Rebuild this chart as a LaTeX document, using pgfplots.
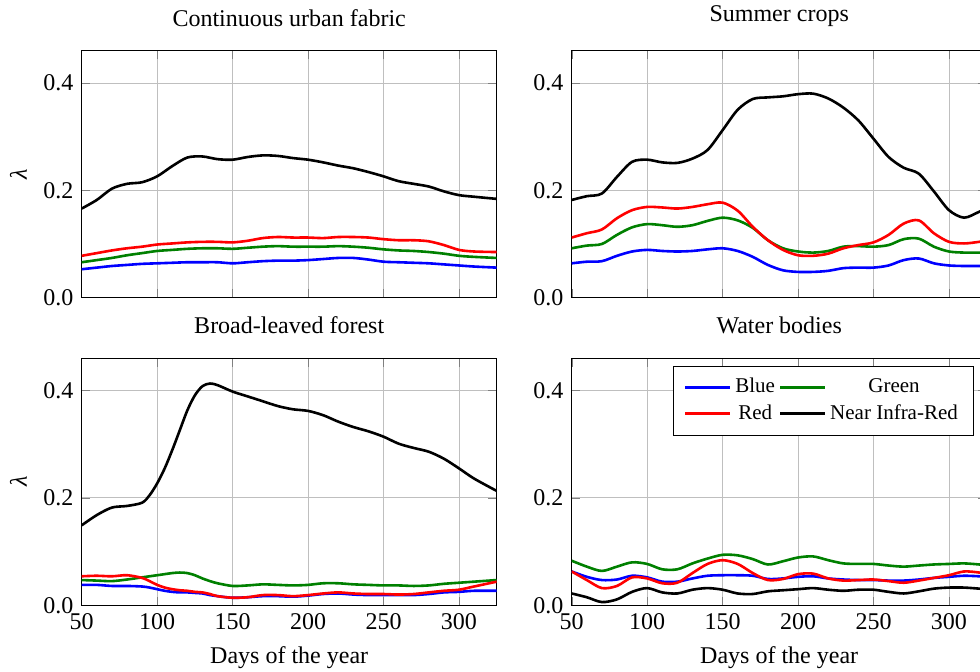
\documentclass[12pt,border=0pt]{standalone}
\usepackage{fontspec}
\setmainfont{Liberation Serif}
\usepackage{pgfplots}
\usepackage{pgfplotstable}
\pgfplotsset{compat=1.18}

\definecolor{cblue}{RGB}{0,0,255}
\definecolor{cgreen}{RGB}{0,128,0}
\definecolor{cred}{RGB}{255,0,0}

% continuous urban fabric
\pgfplotstableread{
d   B     G     R     N
50  0.053 0.066 0.078 0.166
60  0.056 0.070 0.083 0.182
70  0.059 0.074 0.088 0.203
80  0.061 0.079 0.092 0.212
90  0.063 0.083 0.095 0.215
100 0.064 0.087 0.099 0.226
110 0.065 0.089 0.101 0.245
120 0.066 0.091 0.103 0.261
130 0.066 0.092 0.104 0.263
140 0.066 0.092 0.104 0.258
150 0.064 0.091 0.103 0.257
160 0.066 0.093 0.106 0.262
170 0.068 0.095 0.111 0.265
180 0.069 0.096 0.113 0.264
190 0.069 0.095 0.112 0.260
200 0.070 0.095 0.112 0.257
210 0.072 0.095 0.111 0.252
220 0.074 0.096 0.113 0.246
230 0.074 0.095 0.113 0.241
240 0.071 0.093 0.112 0.234
250 0.067 0.090 0.109 0.226
260 0.066 0.088 0.107 0.217
270 0.065 0.087 0.107 0.212
280 0.064 0.085 0.105 0.207
290 0.062 0.082 0.098 0.198
300 0.060 0.078 0.089 0.191
310 0.058 0.076 0.086 0.188
325 0.056 0.074 0.085 0.184
}\urban

% summer crops
\pgfplotstableread{
d   B     G     R     N
50  0.064 0.092 0.112 0.182
60  0.067 0.097 0.120 0.189
70  0.068 0.100 0.127 0.194
80  0.078 0.117 0.148 0.225
90  0.086 0.131 0.163 0.253
100 0.089 0.137 0.169 0.257
110 0.087 0.135 0.168 0.252
120 0.086 0.132 0.166 0.251
130 0.087 0.135 0.169 0.259
140 0.090 0.143 0.174 0.275
150 0.092 0.149 0.177 0.312
160 0.087 0.144 0.162 0.350
170 0.076 0.130 0.132 0.370
180 0.061 0.107 0.107 0.373
190 0.051 0.092 0.089 0.375
200 0.048 0.086 0.079 0.379
210 0.048 0.084 0.078 0.380
220 0.050 0.087 0.082 0.371
230 0.055 0.095 0.092 0.354
240 0.056 0.096 0.098 0.330
250 0.056 0.095 0.103 0.296
260 0.060 0.098 0.117 0.262
270 0.070 0.109 0.138 0.242
280 0.073 0.110 0.144 0.231
290 0.064 0.095 0.120 0.198
300 0.060 0.086 0.104 0.163
310 0.059 0.084 0.101 0.149
320 0.059 0.084 0.104 0.160
325 0.059 0.084 0.106 0.166
}\crops

% broad-leaved forest
\pgfplotstableread{
d   B     G     R     N
50  0.038 0.047 0.054 0.149
60  0.038 0.046 0.055 0.168
70  0.036 0.045 0.054 0.182
80  0.036 0.048 0.056 0.185
90  0.035 0.052 0.051 0.191
95  0.033 0.054 0.045 0.205
100 0.030 0.056 0.038 0.227
105 0.027 0.058 0.033 0.255
110 0.025 0.060 0.030 0.289
115 0.024 0.061 0.028 0.326
120 0.024 0.060 0.027 0.363
125 0.023 0.056 0.025 0.391
130 0.022 0.050 0.024 0.408
135 0.019 0.045 0.021 0.413
140 0.017 0.041 0.017 0.410
150 0.014 0.036 0.014 0.398
160 0.015 0.037 0.015 0.389
170 0.017 0.039 0.019 0.380
180 0.017 0.038 0.019 0.371
190 0.016 0.037 0.017 0.365
200 0.018 0.038 0.019 0.362
210 0.021 0.041 0.022 0.354
220 0.022 0.041 0.024 0.342
230 0.020 0.039 0.022 0.332
240 0.019 0.038 0.021 0.324
250 0.019 0.037 0.021 0.314
260 0.019 0.037 0.020 0.301
270 0.019 0.036 0.021 0.293
280 0.021 0.037 0.024 0.286
290 0.024 0.040 0.027 0.273
300 0.025 0.042 0.029 0.255
310 0.027 0.044 0.035 0.236
325 0.027 0.047 0.044 0.213
}\forest

% water bodies
\pgfplotstableread{
d   B     G     R     N
50  0.063 0.083 0.063 0.022
60  0.053 0.072 0.047 0.015
70  0.047 0.064 0.032 0.006
80  0.048 0.072 0.036 0.011
90  0.055 0.080 0.052 0.025
100 0.052 0.077 0.050 0.032
110 0.044 0.067 0.041 0.024
120 0.044 0.067 0.042 0.022
130 0.050 0.078 0.060 0.029
140 0.055 0.087 0.077 0.032
150 0.056 0.094 0.084 0.029
160 0.056 0.093 0.077 0.022
170 0.055 0.086 0.060 0.021
180 0.049 0.076 0.047 0.026
190 0.050 0.082 0.049 0.028
200 0.053 0.089 0.058 0.030
210 0.054 0.091 0.059 0.032
220 0.050 0.084 0.050 0.029
230 0.048 0.078 0.046 0.027
240 0.047 0.077 0.047 0.029
250 0.047 0.077 0.048 0.029
260 0.046 0.074 0.045 0.025
270 0.046 0.072 0.042 0.022
280 0.048 0.074 0.046 0.026
290 0.051 0.076 0.051 0.031
300 0.053 0.077 0.056 0.033
310 0.055 0.078 0.063 0.033
320 0.054 0.076 0.061 0.031
325 0.053 0.074 0.058 0.030
}\water

\pgfplotsset{
  panel/.style={
    scale only axis, width=207.5pt, height=123.5pt, anchor=south west,
    xmin=50, xmax=325, ymin=0, ymax=0.46,
    xtick={50,100,...,300}, ytick={0,0.2,0.4},
    grid=major,
    /pgf/number format/assume math mode=true,
    yticklabel style={/pgf/number format/.cd, fixed, fixed zerofill, precision=1},
    every axis title shift=8pt,
    every axis plot/.append style={line width=1.3pt, smooth},
  },
}

\begin{document}
\begin{tikzpicture}
\begin{axis}[panel, at={(0pt,153.8pt)}, title={Continuous urban fabric},
  xticklabels={}, ylabel={\textit{λ}}]
\addplot[cblue] table[x=d,y=B]{\urban};
\addplot[cgreen] table[x=d,y=G]{\urban};
\addplot[cred] table[x=d,y=R]{\urban};
\addplot[black] table[x=d,y=N]{\urban};
\end{axis}

\begin{axis}[panel, at={(245pt,153.8pt)}, title={Summer crops}, xticklabels={}]
\addplot[cblue] table[x=d,y=B]{\crops};
\addplot[cgreen] table[x=d,y=G]{\crops};
\addplot[cred] table[x=d,y=R]{\crops};
\addplot[black] table[x=d,y=N]{\crops};
\end{axis}

\begin{axis}[panel, at={(0pt,0pt)}, title={Broad-leaved forest},
  xlabel={Days of the year}, ylabel={\textit{λ}}]
\addplot[cblue] table[x=d,y=B]{\forest};
\addplot[cgreen] table[x=d,y=G]{\forest};
\addplot[cred] table[x=d,y=R]{\forest};
\addplot[black] table[x=d,y=N]{\forest};
\end{axis}

\begin{axis}[panel, at={(245pt,0pt)}, title={Water bodies},
  xlabel={Days of the year},
  legend columns=2, legend cell align=center,
  legend image code/.code={\draw[#1] (0pt,0pt) -- (22.3pt,0pt);},
  legend style={at={(1,1)}, anchor=north east, xshift=-6.7pt, yshift=-3.85pt,
    inner xsep=5.5pt, inner ysep=4pt,
    font=\fontsize{10.5}{12.6}\selectfont}]
\addplot[cblue] table[x=d,y=B]{\water};
\addplot[cgreen] table[x=d,y=G]{\water};
\addplot[cred] table[x=d,y=R]{\water};
\addplot[black] table[x=d,y=N]{\water};
\legend{Blue,Green,Red,Near Infra-Red}
\end{axis}

\pgfresetboundingbox
\useasboundingbox (-40.85pt,-33.35pt) rectangle (449.15pt,302.65pt);
\end{tikzpicture}
\end{document}
